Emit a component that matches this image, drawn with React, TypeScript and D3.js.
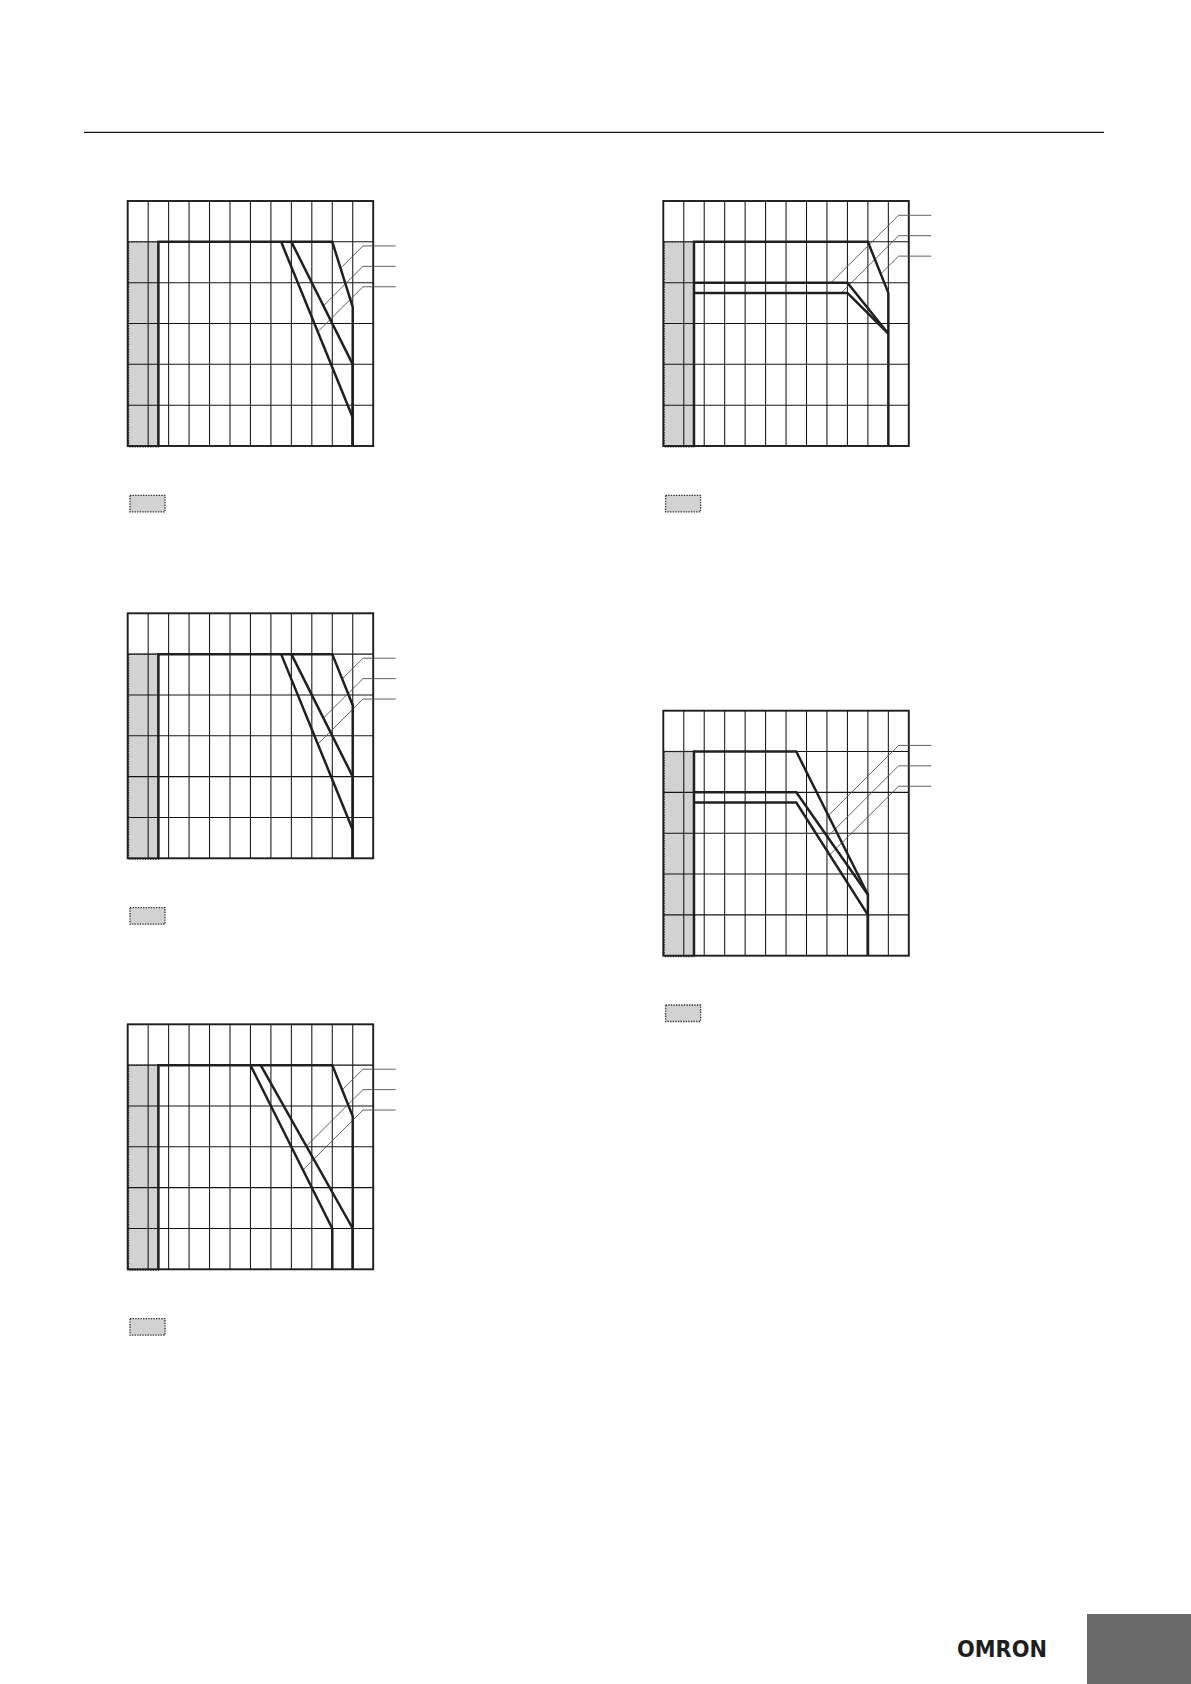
import * as d3 from 'd3';

type Pt = [number, number];

// axes (°C and % load), same for every chart
const tempTicks = [-40, -30, -20, -10, 0, 10, 20, 30, 40, 50, 60, 70, 80];
const loadTicks = [0, 20, 40, 60, 80, 100, 120];
const coldLimit = -25; // shaded region runs from the left edge up to here
const elbowTemp = 75; // where the leader lines bend
const leaderEnd = 91;

// chart 1 (top left)
const c1Curves: Pt[][] = [
  [[-25, 0], [-25, 100], [60, 100], [70, 68], [70, 0]],
  [[40, 100], [70, 40], [70, 0]],
  [[35, 100], [70, 14], [70, 0]],
];
const c1Labels = [98, 88, 78];
const c1Targets = [0, 1, 2];

// chart 2 (top right)
const c2Curves: Pt[][] = [
  [[-25, 0], [-25, 100], [60, 100], [70, 75], [70, 0]],
  [[-25, 80], [50, 80], [70, 55]],
  [[-25, 75], [50, 75], [70, 55]],
];
const c2Labels = [113, 103, 93];
const c2Targets = [1, 2, 0];

// chart 3 (middle left)
const c3Curves: Pt[][] = [
  [[-25, 0], [-25, 100], [60, 100], [70, 75], [70, 0]],
  [[40, 100], [70, 40], [70, 0]],
  [[35, 100], [70, 14], [70, 0]],
];
const c3Labels = [98, 88, 78];
const c3Targets = [0, 1, 2];

// chart 4 (bottom left)
const c4Curves: Pt[][] = [
  [[-25, 0], [-25, 100], [60, 100], [70, 75], [70, 0]],
  [[25, 100], [70, 20], [70, 0]],
  [[20, 100], [60, 20], [60, 0]],
];
const c4Labels = [98, 88, 78];
const c4Targets = [0, 1, 2];

// chart 5 (middle right)
const c5Curves: Pt[][] = [
  [[-25, 0], [-25, 100], [25, 100], [60, 30], [60, 0]],
  [[-25, 80], [25, 80], [60, 30]],
  [[-25, 75], [25, 75], [60, 20], [60, 0]],
];
const c5Labels = [103, 93, 83];
const c5Targets = [0, 1, 2];

const W = 245.5;
const H = 245;

const charts = [
  { x: 127.7, y: 201, curves: c1Curves, labels: c1Labels, targets: c1Targets },
  { x: 663.3, y: 201, curves: c2Curves, labels: c2Labels, targets: c2Targets },
  { x: 127.7, y: 613.3, curves: c3Curves, labels: c3Labels, targets: c3Targets },
  { x: 127.7, y: 1024.3, curves: c4Curves, labels: c4Labels, targets: c4Targets },
  { x: 663.3, y: 710.7, curves: c5Curves, labels: c5Labels, targets: c5Targets },
];

// leaders run at 45deg in screen space, i.e. temp - load stays constant
function leaderStart(curve: Pt[], label: number): Pt {
  const c = elbowTemp - label;
  let best: Pt | null = null;
  for (let i = 0; i < curve.length - 1; i++) {
    const [t1, p1] = curve[i];
    const [t2, p2] = curve[i + 1];
    const f1 = t1 - p1 - c;
    const f2 = t2 - p2 - c;
    if (f1 === f2) continue;
    if ((f1 <= 0 && f2 >= 0) || (f1 >= 0 && f2 <= 0)) {
      const k = f1 / (f1 - f2);
      const pt: Pt = [t1 + k * (t2 - t1), p1 + k * (p2 - p1)];
      if (pt[0] <= elbowTemp && (!best || pt[0] > best[0])) best = pt;
    }
  }
  return best ?? [elbowTemp, label];
}

function Chart({ x: ox, y: oy, curves, labels, targets }: typeof charts[number]) {
  const x = d3.scaleLinear().domain([-40, 80]).range([0, W]);
  const y = d3.scaleLinear().domain([0, 120]).range([H, 0]);
  const line = d3.line<Pt>().x((d) => x(d[0])).y((d) => y(d[1]));

  return (
    <g transform={`translate(${ox},${oy})`}>
      <rect
        x={x(-40)}
        y={y(100)}
        width={x(coldLimit) - x(-40)}
        height={y(0) - y(100)}
        fill="#d2d2d2"
      />
      {tempTicks.slice(1, -1).map((t) => (
        <line key={'v' + t} x1={x(t)} x2={x(t)} y1={0} y2={H} stroke="#151515" strokeWidth={1.05} />
      ))}
      {loadTicks.slice(1, -1).map((p) => (
        <line key={'h' + p} x1={0} x2={W} y1={y(p)} y2={y(p)} stroke="#151515" strokeWidth={1.05} />
      ))}
      <rect
        x={x(-40) + 0.8}
        y={y(100)}
        width={x(coldLimit) - x(-40) - 0.8}
        height={y(0) - y(100) + 0.8}
        fill="none"
        stroke="#333"
        strokeWidth={1.4}
        strokeDasharray="1.4 1.2"
      />
      <rect x={0} y={0} width={W} height={H} fill="none" stroke="#1c1c1c" strokeWidth={1.9} />
      {labels.map((lab, i) => {
        const s = leaderStart(curves[targets[i]], lab);
        const pts: Pt[] = [s, [elbowTemp, lab], [leaderEnd, lab]];
        return <path key={'l' + i} d={line(pts) ?? ''} fill="none" stroke="#5a5a5a" strokeWidth={0.95} />;
      })}
      {curves.map((c, i) => (
        <path
          key={'c' + i}
          d={line(c) ?? ''}
          fill="none"
          stroke="#202020"
          strokeWidth={2.5}
          strokeLinejoin="miter"
        />
      ))}
      <rect
        x={2.3}
        y={H + 49.3}
        width={35}
        height={16.5}
        fill="#d2d2d2"
        stroke="#333"
        strokeWidth={1.3}
        strokeDasharray="1.4 1.2"
      />
    </g>
  );
}

export default function App() {
  return (
    <svg
      width={1191}
      height={1684}
      style={{ position: 'absolute', left: 0, top: 0, display: 'block', background: '#fff' }}
    >
      <line x1={84} x2={1104} y1={132.3} y2={132.3} stroke="#111" strokeWidth={1.3} />
      {charts.map((c, i) => (
        <Chart key={i} {...c} />
      ))}
      <text
        x={957}
        y={1657.3}
        fontFamily="DejaVu Sans"
        fontWeight="bold"
        fontSize={23}
        textLength={90}
        lengthAdjust="spacingAndGlyphs"
        fill="#1e1e1e"
      >
        OMRON
      </text>
      <rect x={1087} y={1614} width={104} height={70} fill="#6a6a6a" />
    </svg>
  );
}
